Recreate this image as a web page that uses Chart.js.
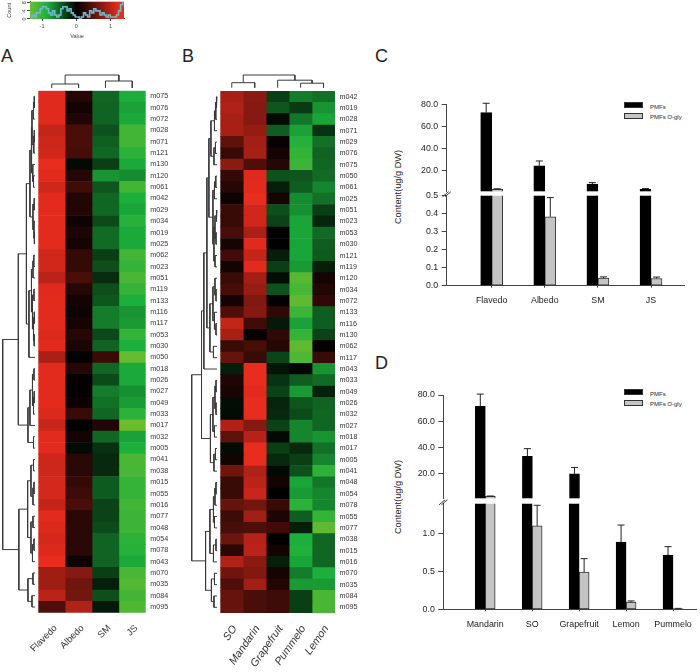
<!DOCTYPE html>
<html>
<head>
<meta charset="utf-8">
<script src="https://cdn.jsdelivr.net/npm/chart.js@4"></script>
<style>
  html, body { margin: 0; background: #fff; }
  #page { position: relative; width: 700px; height: 672px; overflow: hidden; font-family: "Liberation Sans", Arial, sans-serif; color: #222; }
  #page canvas { position: absolute; }
  .letter { position: absolute; font-size: 18px; line-height: 18px; color: #222; opacity: .99; }
  .ytitle { position: absolute; font-size: 9.2px; white-space: nowrap; transform: translate(-50%, -50%) rotate(-90deg); opacity: .99; }
  .swatch { position: absolute; width: 19px; height: 6px; box-sizing: border-box; border: 1px solid #333; }
  .legtext { position: absolute; font-size: 6px; line-height: 8px; white-space: nowrap; transform: translateY(-50%); opacity: .99; }
</style>
</head>
<body>
<div id="page">
  <div class="letter" style="left:1px;top:47px">A</div>
  <div class="letter" style="left:182px;top:47px">B</div>
  <div class="letter" style="left:375px;top:47px">C</div>
  <div class="letter" style="left:375px;top:354px">D</div>
  <div class="ytitle" style="left:398px;top:187px">Content(ug/g DW)</div>
  <div class="ytitle" style="left:398px;top:497px">Content(ug/g DW)</div>
  <div class="swatch" style="left:624px;top:102px;background:#000"></div>
  <div class="swatch" style="left:624px;top:113px;background:#c4c4c4"></div>
  <div class="legtext" style="left:650px;top:107px">PMFs</div>
  <div class="legtext" style="left:650px;top:117px">PMFs <i>O</i>-gly</div>
  <div class="swatch" style="left:624px;top:389px;background:#000"></div>
  <div class="swatch" style="left:624px;top:400px;background:#c4c4c4"></div>
  <div class="legtext" style="left:650px;top:394px">PMFs</div>
  <div class="legtext" style="left:650px;top:404px">PMFs <i>O</i>-gly</div>
</div>
<script>
// colour key histogram
const keyStart = -1.35;
const keyBin = 0.06;
const keyCounts = [1,2,1,3,3,5,6,6,5,3,2,4,2,1,2,5,6,6,4,5,3,2,1,1,0,1,3,2,1,4,3,5,4,4,2,3,2,1,2,1,1,1,2,4,7,9];

// heatmap A
const rowsA = ["m075","m076","m072","m028","m071","m121","m130","m120","m061","m042","m029","m034","m019","m025","m062","m023","m051","m119","m133","m116","m117","m053","m030","m050","m018","m026","m027","m049","m033","m017","m032","m005","m041","m038","m015","m055","m016","m077","m048","m054","m078","m043","m070","m035","m084","m095"];
const colsA = ["Flavedo","Albedo","SM","JS"];
const aFlavedo = [1.2,1.2,1.2,1.05,1.1,1.12,1.25,1.22,1.12,1.22,1.22,1.22,1.22,1.22,1.12,1.12,1.0,1.2,1.22,1.22,1.22,1.18,1.22,.92,1.22,1.22,1.22,1.22,1.18,1.08,1.22,1.22,1.1,1.1,1.15,1.15,1.05,1.22,1.18,1.15,1.18,1.25,.85,.85,1.0,.42];
const aAlbedo = [.2,.1,.17,.4,.4,.38,-.05,.2,.35,.18,.18,.08,.15,.12,.28,.28,.4,.2,.1,.08,.12,.2,.15,.02,.2,.02,.02,.06,.3,0,.1,-.05,.22,.22,.28,.33,.4,.22,.22,.22,.22,.08,.72,.6,.62,.95];
const aSM = [-.5,-.48,-.48,-.4,-.46,-.5,-.3,-.72,-.42,-.5,-.5,-.36,-.52,-.52,-.3,-.38,-.22,-.38,-.42,-.6,-.6,-.35,-.48,.3,-.5,-.36,-.6,-.55,-.5,.18,-.5,-.24,-.2,-.2,-.44,-.44,-.32,-.32,-.36,-.48,-.48,-.48,-.3,-.15,-.38,-.12];
const aJS = [-.85,-.78,-.82,-1.08,-1.08,-.95,-.82,-.68,-1.08,-.85,-.8,-.92,-.82,-.82,-1.08,-1.0,-1.12,-1.0,-.85,-.72,-.75,-1.0,-.85,-1.3,-.82,-.82,-.7,-.76,-.95,-1.32,-.78,-.85,-1.12,-1.12,-1.0,-1.0,-1.08,-1.05,-1.05,-.95,-.92,-.82,-1.12,-1.18,-1.08,-1.15];

// heatmap B
const rowsB = ["m042","m019","m028","m071","m029","m076","m075","m050","m061","m025","m051","m023","m053","m030","m121","m119","m120","m034","m072","m133","m116","m130","m062","m117","m043","m033","m049","m026","m032","m027","m018","m017","m005","m041","m048","m054","m078","m055","m077","m038","m015","m016","m070","m035","m084","m095"];
const colsB = ["SO","Mandarin","Grapefruit","Pummelo","Lemon"];
const bSO = [.9,.95,.9,.9,.5,.3,.75,.28,.2,.08,.3,.3,.4,.12,.35,.1,.3,.38,.1,.42,1.05,.9,.3,.55,-.15,.16,.14,-.07,-.06,.95,.5,-.06,.1,.6,.3,.3,.55,.33,.38,.58,.22,.95,.6,.42,.55,.55];
const bMandarin = [.75,.72,.72,.8,.88,.9,.42,1.2,1.22,1.25,1.12,1.12,.92,1.2,1.05,1.22,.88,.82,.7,.72,.35,.03,.38,.3,1.25,1.25,1.22,1.25,1.25,.72,.98,1.25,1.25,.95,1.0,1.08,.62,.88,.42,.98,1.0,.75,.7,.88,.4,.4];
const bGrapefruit = [-.3,-.42,-.05,-.45,.04,.1,.2,-.4,-.15,.12,-.38,-.32,-.01,-.01,-.15,-.3,-.07,-.4,.03,.25,-.12,.25,.2,-.33,-.1,-.25,-.32,-.18,-.2,-.32,-.05,-.3,-.2,-.05,.1,0,.3,.15,.35,.01,.1,-.15,.12,.18,.33,.33];
const bPummelo = [-.6,-.28,-.58,-.78,-.9,-1.0,-1.05,-.42,-.45,-.68,-.7,-.8,-.8,-.8,-.8,-.75,-1.2,-1.1,-1.25,-1.05,-.78,-1.0,-1.25,-1.15,-.03,-.45,-.75,-.42,-.36,-.65,-.65,-.2,-.3,-.4,-.8,-.75,-.95,-.45,-.15,-.85,-.88,-.8,-.6,-.75,-.3,-.3];
const bLemon = [-.55,-.72,-.8,-.25,-.55,-.48,-.5,-.52,-.65,-.55,-.3,-.18,-.52,-.45,-.44,-.15,.12,.18,.25,-.45,-.45,-.32,.02,.3,-.72,-.52,-.16,-.48,-.5,-.5,-.72,-.55,-.65,-.95,-.58,-.65,-.65,-1.0,-1.25,-.5,-.5,-.5,-.85,-.75,-1.12,-1.12];

// dendrograms: [height, left, right], a plain number is a row or column index
const treeRowsA = [32,
  [16.5,
    [8.5,
      [5, [3.5, [3, [1.5, [.7,0,1], 2], [1.2, [.7,3,4], 5]], [2.2, 6, [1.5,7,8]]], [2, [.8,9,10], [1, 11, [.6,12,13]]]],
      [6, [3.5, [2, [1.2,14,15], 16], [2.5, [1,17,18], [1.5, [.7,19,20], [.8,21,22]]]], 23]],
    [7, [5, [2.5, [1,24,25], [1.5, [.8,26,27], 28]], 29], [1.5,30,31]]],
  [16,
    [7.3, [4, [1.5,32,33], [2, [1,34,35], 36]], [4, [2,37,38], [2.5, [1,39,40], 41]]],
    [7, [2,42,43], [3,44,45]]]];
const treeColsA = [13, [4,0,1], [7,2,3]];
const treeRowsB = [25,
  [15.3,
    [13,
      [10,
        [8, [6, [2.5, [1.2, [.8,0,1], 2], 3], [3, [1.5,4,5], 6]], [4, [2.5, [1.2,7,8], 9], [3, [2, [.8,10,11], [1,12,13]], [2,14,15]]]],
        [7, [4, [2, 16, [1,17,18]], [2.5, 19, [1,20,21]]], [3.5,22,23]]],
      24],
    [6.5, [4, [2, [1,25,26], [1,27,28]], [2.5,29,30]], [3, [1.5,31,32], 33]]],
  [11.3,
    [7, [3.5, [2, [1,34,35], 36], [2.5,37,38]], [3.5, [1,39,40], 41]],
    [5.5, [2.5,42,43], [3,44,45]]]];
const treeColsB = [12.7, [5,0,1], [7.5, 2, [4.5,3,4]]];

// panel C
const catsC = ["Flavedo","Albedo","SM","JS"];
const pmfC = [72.8,24.5,8,3.4];
const pmfCapC = [81.3,29,9.4,4];
const glyC = [3.4,.383,.043,.04];
const glyCapC = [3.8,.49,.049,.048];

// panel D
const catsD = ["Mandarin","SO","Grapefruit","Lemon","Pummelo"];
const pmfD = [71.3,33.4,20,.885,.713];
const pmfCapD = [80.7,39.2,24.9,1.11,.825];
const glyD = [2.9,1.098,.49,.094,.01];
const glyCapD = [3.2,1.37,.667,.11,.012];

Chart.defaults.animation = false;
Chart.defaults.responsive = false;
Chart.defaults.font.family = '"Liberation Sans", Arial, sans-serif';
Chart.defaults.plugins.legend.display = false;
Chart.defaults.plugins.tooltip.enabled = false;

function canvasAt(x, y, w, h) {
  const c = document.createElement("canvas");
  c.width = w;
  c.height = h;
  c.style.left = x + "px";
  c.style.top = y + "px";
  document.getElementById("page").appendChild(c);
  return c.getContext("2d");
}

// green -> black -> red
const heatStops = [
  [-1.4, [120, 190, 45]],
  [-0.85, [28, 175, 60]],
  [0, [0, 0, 0]],
  [1.25, [232, 44, 30]],
];

function heatColor(v) {
  const val = Math.max(heatStops[0][0], Math.min(heatStops[3][0], v));
  for (let i = 0; i < heatStops.length - 1; i++) {
    const [a, ca] = heatStops[i];
    const [b, cb] = heatStops[i + 1];
    if (val <= b) {
      const t = (val - a) / (b - a);
      return `rgb(${ca.map((c, k) => Math.round(c + (cb[k] - c) * t)).join(",")})`;
    }
  }
}

// colour band under the histogram, read through the x scale
const keyBand = {
  id: "keyBand",
  beforeDatasetsDraw(chart) {
    const { ctx, chartArea: a, scales: { x } } = chart;
    for (let px = Math.floor(a.left); px < a.right; px++) {
      ctx.fillStyle = heatColor(x.getValueForPixel(px + 0.5));
      ctx.fillRect(px, a.top, 1, a.bottom - a.top);
    }
  },
};

function drawKey() {
  // canvas starts above the page so the tick label margin fits
  new Chart(canvasAt(0, -6, 140, 51), {
    type: "line",
    data: {
      datasets: [{
        data: keyCounts.map((n, i) => ({ x: keyStart + keyBin * (i + 0.5), y: n })),
        stepped: "middle",
        borderColor: "#6fb9c9",
        borderWidth: 1.6,
        pointRadius: 0,
      }],
    },
    plugins: [keyBand],
    options: {
      layout: { padding: { top: 7.7, right: 16, bottom: 0, left: 0 } },
      scales: {
        x: {
          type: "linear",
          min: -1.35,
          max: 1.39,
          afterBuildTicks: s => { s.ticks = [-1, 0, 1].map(value => ({ value })); },
          afterFit: s => { s.height = 26; },
          border: { color: "#444" },
          grid: { drawOnChartArea: false, tickLength: 2, color: "#444" },
          ticks: { font: { size: 5.5 }, color: "#444", padding: 2, maxRotation: 0 },
          title: { display: true, text: "Value", font: { size: 5.5 }, color: "#444", padding: { top: 0, bottom: 5.5 } },
        },
        y: {
          min: 0,
          max: 8.5,
          afterBuildTicks: s => { s.ticks = [0, 4, 8].map(value => ({ value })); },
          afterFit: s => { s.width = 30; },
          border: { color: "#444" },
          grid: { drawOnChartArea: false, tickLength: 3, color: "#444" },
          ticks: { font: { size: 5.5 }, color: "#444", padding: 1, minRotation: 90, maxRotation: 90, crossAlign: "center" },
          title: { display: true, text: "Count", font: { size: 5.5 }, color: "#444", padding: { top: 6, bottom: 0 } },
        },
      },
    },
  });
}

function drawHeat(rows, cols, series, box, labelFont, rotation) {
  const canvasRight = Math.ceil(box.right + box.rowLabels);
  new Chart(canvasAt(box.x, 0, canvasRight - box.x, 672), {
    type: "bar",
    data: {
      labels: rows,
      datasets: series.map(values => ({
        data: values.map(() => 1),
        backgroundColor: values.map(heatColor),
        categoryPercentage: 1,
        barPercentage: 1,
        borderWidth: 0,
      })),
    },
    options: {
      indexAxis: "y",
      layout: { padding: { top: box.top, bottom: 672 - box.bottom - 60, left: box.left - box.x, right: canvasRight - box.right - box.rowLabels } },
      scales: {
        x: {
          type: "linear",
          stacked: true,
          min: 0,
          max: cols.length,
          afterBuildTicks: s => { s.ticks = cols.map((c, i) => ({ value: i + 0.5 })); },
          afterFit: s => { s.height = 60; },
          border: { display: false },
          grid: { display: false },
          ticks: {
            callback: v => cols[Math.floor(v)],
            autoSkip: false,
            minRotation: rotation,
            maxRotation: rotation,
            padding: 2,
            labelOffset: box.labelShift,
            color: "#333",
            font: labelFont,
          },
        },
        y: {
          position: "right",
          stacked: true,
          afterFit: s => { s.width = box.rowLabels; },
          border: { display: false },
          grid: { display: false, drawTicks: false },
          ticks: { autoSkip: false, padding: 4.5, color: "#333", font: { size: 7.2 } },
        },
      },
    },
  });
}

// turn a nested tree into line segments, NaN points break the path
function treeSegments(node, pts) {
  if (typeof node === "number") return { pos: node + 0.5, h: 0 };
  const [h, a, b] = node;
  const l = treeSegments(a, pts);
  const r = treeSegments(b, pts);
  pts.push(
    { h: l.h, pos: l.pos }, { h, pos: l.pos }, { h, pos: r.pos }, { h: r.h, pos: r.pos },
    { h: NaN, pos: NaN }
  );
  return { pos: (l.pos + r.pos) / 2, h };
}

function drawTree(tree, leaves, box, horizontal) {
  const pts = [];
  treeSegments(tree, pts);
  const data = pts.map(p => horizontal ? { x: p.pos, y: p.h } : { x: p.h, y: p.pos });
  const heightScale = { min: 0, max: tree[0], display: false };
  const leafScale = { min: 0, max: leaves, display: false };
  const x0 = Math.floor(box.x) - 2;
  const y0 = Math.floor(box.y) - 2;
  const x1 = Math.ceil(box.x + box.w) + 2;
  const y1 = Math.ceil(box.y + box.h) + 2;
  new Chart(canvasAt(x0, y0, x1 - x0, y1 - y0), {
    type: "scatter",
    data: { datasets: [{ data, showLine: true, borderColor: "#3a3a3a", borderWidth: 1, pointRadius: 0, clip: false }] },
    options: {
      layout: { padding: { left: box.x - x0, top: box.y - y0, right: x1 - box.x - box.w, bottom: y1 - box.y - box.h } },
      scales: horizontal
        ? { x: { type: "linear", ...leafScale }, y: { type: "linear", ...heightScale } }
        : { x: { type: "linear", reverse: true, ...heightScale }, y: { type: "linear", reverse: true, ...leafScale } },
    },
  });
}

const errorBars = {
  id: "errorBars",
  afterDatasetsDraw(chart) {
    const { ctx, scales: { y } } = chart;
    chart.data.datasets.forEach((ds, d) => {
      chart.getDatasetMeta(d).data.forEach((bar, i) => {
        if (ds.caps[i] === null) return;
        const from = y.getPixelForValue(ds.data[i].y);
        const to = y.getPixelForValue(ds.caps[i]);
        ctx.save();
        ctx.strokeStyle = "#222";
        ctx.lineWidth = 1;
        ctx.beginPath();
        ctx.moveTo(bar.x, from);
        ctx.lineTo(bar.x, to);
        ctx.moveTo(bar.x - 3.5, to);
        ctx.lineTo(bar.x + 3.5, to);
        ctx.stroke();
        ctx.restore();
      });
    });
  },
};

const breakMark = {
  id: "breakMark",
  afterDraw(chart) {
    const { ctx, chartArea: a } = chart;
    ctx.save();
    ctx.strokeStyle = "#222";
    ctx.lineWidth = 0.9;
    ctx.beginPath();
    [-1.2, 1.2].forEach(off => {
      ctx.moveTo(a.left - 3 + off, a.top + 1);
      ctx.lineTo(a.left + 3 + off, a.top - 4);
    });
    ctx.stroke();
    ctx.restore();
  },
};

function barSets(pmf, pmfCap, gly, glyCap, keep, thickness) {
  const make = (values, caps, color) => ({
    data: values.map((v, i) => ({ x: i, y: keep(v) ? v : null })),
    caps: values.map((v, i) => keep(v) ? caps[i] : null),
    backgroundColor: color,
    borderColor: color === "#000" ? "#000" : "#333",
    borderWidth: 1,
    borderSkipped: false,
    barThickness: thickness,
  });
  return [make(pmf, pmfCap, "#000"), make(gly, glyCap, "#c4c4c4")];
}

function valueAxis(cfg, ticks) {
  return {
    min: cfg.min,
    max: cfg.max,
    afterBuildTicks: s => { s.ticks = ticks.map(value => ({ value })); },
    afterFit: s => { s.width = 40; },
    border: { color: "#444" },
    grid: { drawOnChartArea: false, tickLength: 5, color: "#444" },
    ticks: { callback: v => v.toFixed(1), padding: 3.5, color: "#222", font: { size: 8.8 } },
  };
}

function drawBroken(cats, sets, box) {
  const xMin = (box.left - box.first) / box.step;
  const xMax = (box.right - box.first) / box.step;
  const xAxis = {
    type: "linear",
    offset: false,
    min: xMin,
    max: xMax,
    grid: { offset: false, drawOnChartArea: false, tickLength: 2, color: "#444" },
  };
  const canvasX = Math.floor(box.left) - 50;
  const padLeft = box.left - canvasX - 40;

  // part above the break, the bottom margin leaves room for the tick label padding
  const upTop = Math.floor(box.upperTop) - 15;
  const upEnd = Math.ceil(box.upperBottom) + 8;
  new Chart(canvasAt(canvasX, upTop, 700 - canvasX, upEnd - upTop), {
    type: "bar",
    data: { datasets: barSets(sets.pmf, sets.pmfCap, sets.gly, sets.glyCap, v => v > box.breakValue, box.thick) },
    plugins: [errorBars],
    options: {
      layout: { padding: { top: box.upperTop - upTop, bottom: upEnd - box.upperBottom, right: 700 - box.right, left: padLeft } },
      scales: {
        x: { ...xAxis, display: false },
        y: valueAxis({ min: box.upperMin, max: 80 }, [20, 40, 60, 80]),
      },
    },
  });

  // part below the break
  const lowTop = Math.floor(box.lowerTop) - 6;
  const lowEnd = Math.ceil(box.lowerBottom) + 40;
  new Chart(canvasAt(canvasX, lowTop, 700 - canvasX, lowEnd - lowTop), {
    type: "bar",
    data: { datasets: barSets(sets.pmf, sets.pmfCap, sets.gly, sets.glyCap, () => true, box.thick)
      .map(ds => ({ ...ds, caps: ds.data.map((p, i) => p.y <= box.breakValue ? ds.caps[i] : null) })) },
    plugins: [errorBars, breakMark],
    options: {
      layout: { padding: { top: box.lowerTop - lowTop, right: 700 - box.right, left: padLeft, bottom: lowEnd - 40 - box.lowerBottom } },
      scales: {
        x: {
          ...xAxis,
          afterBuildTicks: s => { s.ticks = cats.map((c, i) => ({ value: i })); },
          afterFit: s => { s.height = 40; },
          border: { color: "#444" },
          ticks: { callback: v => cats[v], padding: 8, autoSkip: false, maxRotation: 0, color: "#222", font: { size: 8.9 } },
        },
        y: valueAxis({ min: 0, max: box.lowerMax }, box.lowerTicks),
      },
    },
  });
}

drawKey();

drawHeat(rowsA, colsA, [aFlavedo, aAlbedo, aSM, aJS],
  { x: 0, left: 38.3, right: 145.7, top: 90.7, bottom: 612.7, rowLabels: 28, labelShift: 4 }, { size: 9.4 }, 45);
drawTree(treeRowsA, rowsA.length, { x: 2.7, y: 90.7, w: 32.3, h: 522 }, false);
drawTree(treeColsA, colsA.length, { x: 38.3, y: 75, w: 107.4, h: 13 }, true);

drawHeat(rowsB, colsB, [bSO, bMandarin, bGrapefruit, bPummelo, bLemon],
  { x: 180, left: 220.3, right: 335, top: 91, bottom: 613, rowLabels: 28, labelShift: 3 }, { size: 10.8, style: "italic" }, 55);
drawTree(treeRowsB, rowsB.length, { x: 191.7, y: 91, w: 25.3, h: 522 }, false);
drawTree(treeColsB, colsB.length, { x: 220.3, y: 75, w: 114.7, h: 12.7 }, true);

drawBroken(catsC, { pmf: pmfC, pmfCap: pmfCapC, gly: glyC, glyCap: glyCapC }, {
  left: 446.7, right: 684, first: 491.7, step: 53.1, thick: 11,
  upperTop: 104.7, upperBottom: 191.3, upperMin: 1.6, breakValue: 0.5,
  lowerTop: 193.3, lowerBottom: 285.7, lowerMax: 0.5, lowerTicks: [0, 0.1, 0.2, 0.3, 0.4, 0.5],
});

drawBroken(catsD, { pmf: pmfD, pmfCap: pmfCapD, gly: glyD, glyCap: glyCapD }, {
  left: 443.3, right: 697.7, first: 485.3, step: 47.1, thick: 10,
  upperTop: 395, upperBottom: 498.8, upperMin: 1.5, breakValue: 1.39,
  lowerTop: 501, lowerBottom: 609.3, lowerMax: 1.39, lowerTicks: [0, 0.5, 1],
});
</script>
</body>
</html>
